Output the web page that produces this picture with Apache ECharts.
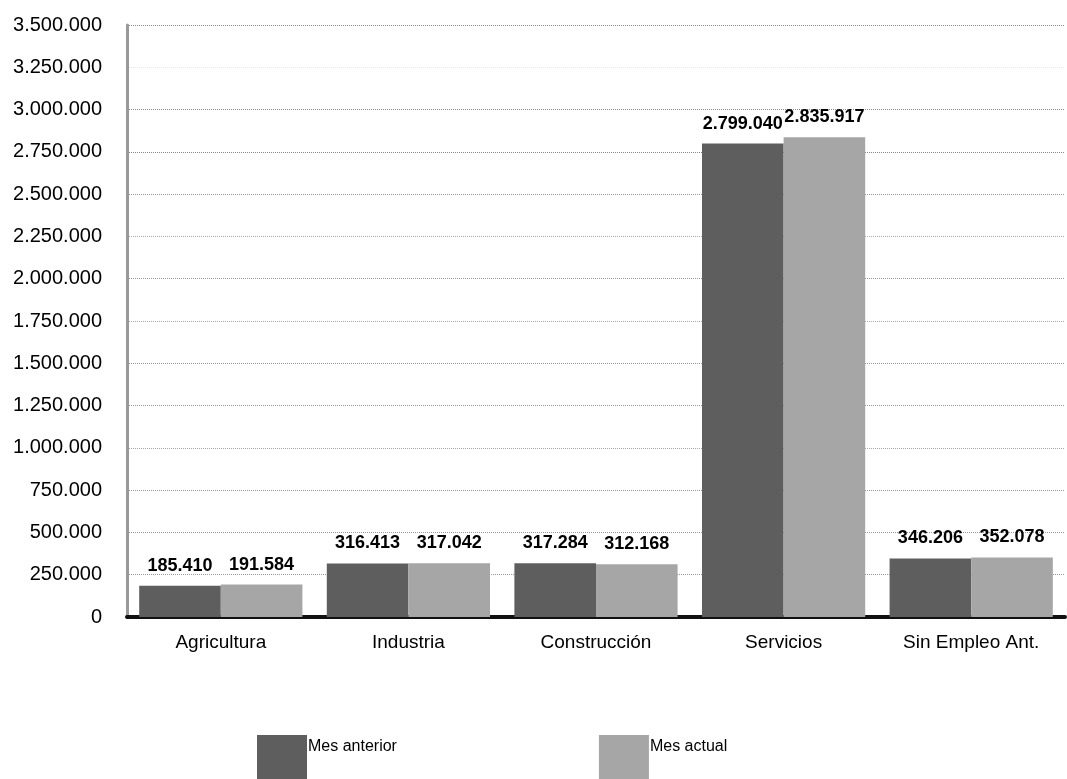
<!DOCTYPE html>
<html>
<head>
<meta charset="utf-8">
<script src="https://cdn.jsdelivr.net/npm/echarts@6/dist/echarts.min.js"></script>
<style>
  html, body { margin: 0; padding: 0; background: #fff; }
  #chart { width: 1067px; height: 779px; }
</style>
</head>
<body>
<div id="chart"></div>
<script>
// Ocupación por sector: mes anterior frente a mes actual
const categories = ['Agricultura', 'Industria', 'Construcción', 'Servicios', 'Sin Empleo Ant.'];
const mesAnterior = [185410, 316413, 317284, 2799040, 346206];
const mesActual = [191584, 317042, 312168, 2835917, 352078];
const seriesNames = ['Mes anterior', 'Mes actual'];

// Thousands separated with dots
function fmt(v) {
  return String(Math.round(v)).replace(/\B(?=(\d{3})+(?!\d))/g, '.');
}

// One colour per split line; the 3.250.000 line is almost invisible
const gridColors = ['#999', '#999', '#999', '#999', '#aaa', '#999', '#999', '#aaa',
  '#999', '#aaa', '#999', '#888', '#888', '#e6e6e6', '#888'];

const chart = echarts.init(document.getElementById('chart'));
const labelStyle = {
  show: true,
  position: 'top',
  distance: 11,
  color: '#000',
  fontWeight: 'bold',
  fontSize: 18,
  formatter: p => fmt(p.value)
};

chart.setOption({
  animation: false,
  backgroundColor: '#fff',
  textStyle: { fontFamily: '"Liberation Sans", Arial, sans-serif' },
  grid: { left: 127, right: 2, top: 25, bottom: 162, containLabel: false },
  legend: {
    data: seriesNames,
    left: 252,
    top: 730,
    itemWidth: 50,
    itemHeight: 46,
    itemGap: 202,
    icon: 'rect',
    // legend text sits in the upper half of the swatch
    formatter: n => '{t|' + n + '}\n{s|}',
    textStyle: {
      color: '#000',
      padding: [0, 0, 0, -4],
      rich: {
        t: { fontSize: 16, color: '#000', fontFamily: '"Liberation Sans", Arial, sans-serif' },
        s: { height: 22 }
      }
    }
  },
  xAxis: {
    type: 'category',
    data: categories,
    axisLine: { show: true, lineStyle: { color: '#111', width: 4 } },
    axisTick: { show: false },
    axisLabel: { fontSize: 19, color: '#000', margin: 16 }
  },
  yAxis: {
    type: 'value',
    min: 0,
    max: 3500000,
    interval: 250000,
    axisLine: { show: true, lineStyle: { color: '#999', width: 3 } },
    axisTick: { show: false },
    axisLabel: { fontSize: 20, color: '#000', margin: 25, formatter: v => fmt(v) },
    splitLine: { show: true, lineStyle: { color: gridColors, type: 'dotted', width: 1 } }
  },
  series: [
    {
      name: seriesNames[0],
      type: 'bar',
      data: mesAnterior,
      barGap: '0%',
      barCategoryGap: '13%',
      itemStyle: { color: '#5e5e5e' },
      label: labelStyle
    },
    {
      name: seriesNames[1],
      type: 'bar',
      data: mesActual,
      itemStyle: { color: '#a6a6a6' },
      label: labelStyle
    }
  ]
});
</script>
</body>
</html>
